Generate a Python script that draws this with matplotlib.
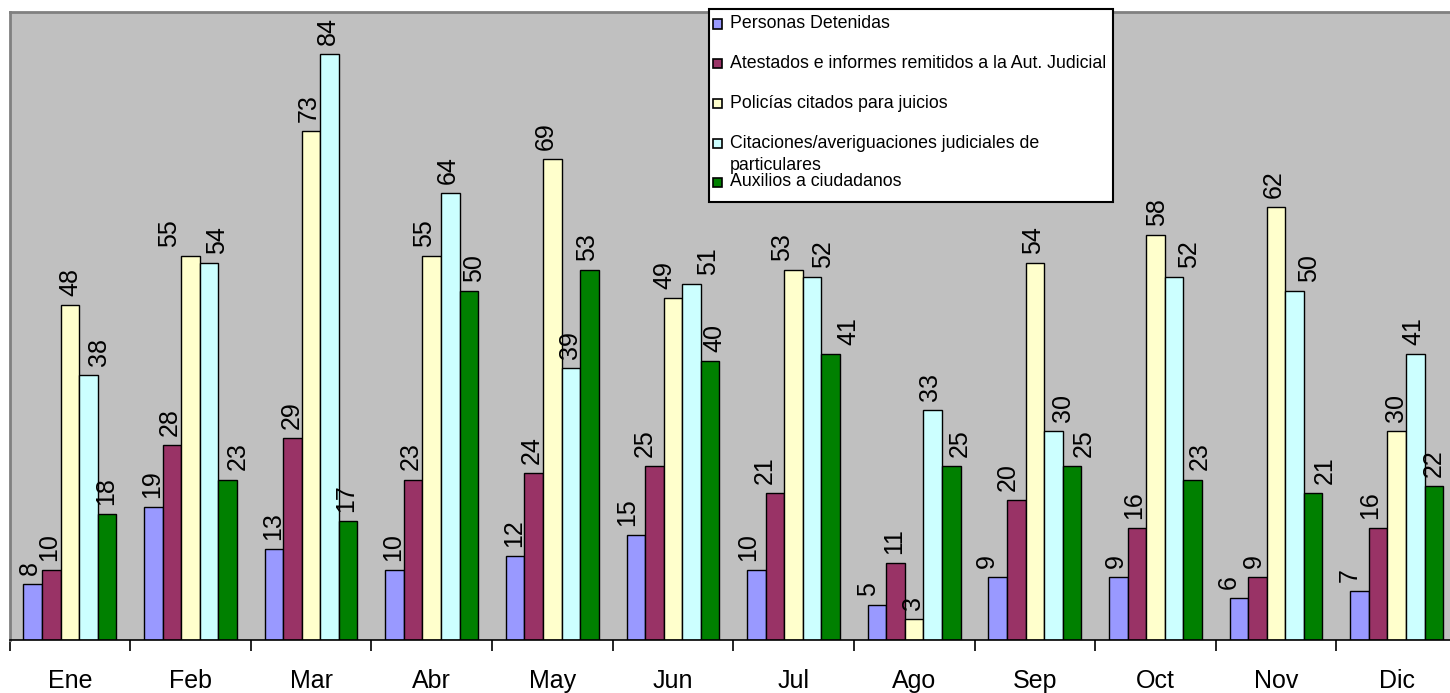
import matplotlib
matplotlib.use("Agg")
import matplotlib.pyplot as plt
from matplotlib.patches import Rectangle
import numpy as np

plt.rcParams['font.family'] = ['Liberation Sans', 'DejaVu Sans']

months = ["Ene", "Feb", "Mar", "Abr", "May", "Jun", "Jul", "Ago", "Sep", "Oct", "Nov", "Dic"]
series_names = [
    "Personas Detenidas",
    "Atestados e informes remitidos a la Aut. Judicial",
    "Policías citados para juicios",
    "Citaciones/averiguaciones judiciales de\nparticulares",
    "Auxilios a ciudadanos",
]
detenidas = [8, 19, 13, 10, 12, 15, 10, 5, 9, 9, 6, 7]
atestados = [10, 28, 29, 23, 24, 25, 21, 11, 20, 16, 9, 16]
policias = [48, 55, 73, 55, 69, 49, 53, 3, 54, 58, 62, 30]
citaciones = [38, 54, 84, 64, 39, 51, 52, 33, 30, 52, 50, 41]
auxilios = [18, 23, 17, 50, 53, 40, 41, 25, 25, 23, 21, 22]
series_values = [detenidas, atestados, policias, citaciones, auxilios]
colors = ["#9999FF", "#993366", "#FFFFCC", "#CCFFFF", "#008000"]

# horizontal nudges of the value labels (pixels), per month, per series (layout only)
label_nudge_px = [
    [-2.7, -2, 0.7, 10.7, -1],
    [-1, -2.2, -21, 7.7, 10.5],
    [-0.7, -1.2, -2.2, -1.5, -2.3],
    [-1.3, -2, -7.8, -2.7, 5.3],
    [-1.1, -2.3, -6.3, -1.3, -1.9],
    [-8.3, -9.3, -8.3, 16.6, 4],
    [-8, -10.5, -11.3, 11.1, 17.8],
    [-9.4, -1.3, -0.8, -2.5, 8.7],
    [-11, -8.6, -2, 9.8, 12.2],
    [-2.5, -2.3, 1.5, 15, 6.8],
    [-10.3, -3.6, -1.9, 14, 11.7],
    [-9.5, -8.3, -1, -1.7, 0.4],
]

W, H = 1450, 693
fig = plt.figure(figsize=(W / 100, H / 100), dpi=100)
fig.patch.set_facecolor("white")

def fx(px):
    return px / W

def fy(py):
    return 1 - py / H

left, right, top, bottom = 9.5, 1457, 12, 640
ax = fig.add_axes([fx(left), fy(bottom), fx(right - left), (bottom - top) / H])
ax.set_facecolor("#C0C0C0")

n = len(series_values)
bw = 1 / 6.5
x = np.arange(len(months))
for i, (vals, c) in enumerate(zip(series_values, colors)):
    pos = x + (i - (n - 1) / 2) * bw
    bars = ax.bar(pos, vals, width=bw, color=c, edgecolor="black", linewidth=1.0, zorder=2)
    for k, (b, v) in enumerate(zip(bars, vals)):
        dx = label_nudge_px[k][i] * 0.72
        ax.annotate(str(v), (b.get_x() + b.get_width() / 2, v), xytext=(dx, 6.5),
                    textcoords="offset points", rotation=90, ha="center", va="bottom",
                    fontsize=18, color="black", zorder=5)

ax.set_xlim(-0.5, len(months) - 0.5)
ax.set_ylim(0, 90)
ax.set_yticks([])
ax.set_xticks(x)
ax.set_xticklabels(months, fontsize=18)
ax.set_xticks(np.arange(len(months) + 1) - 0.5, minor=True)
ax.tick_params(axis="x", which="major", length=0, pad=21)
ax.tick_params(axis="x", which="minor", length=8, width=1.2, color="black")
for s in ["top", "left"]:
    ax.spines[s].set_color("#808080")
    ax.spines[s].set_linewidth(2)
ax.spines["right"].set_visible(False)
ax.spines["bottom"].set_color("black")
ax.spines["bottom"].set_linewidth(1.2)

# Legend (manual, Excel-style)
lx0, ly0, lx1, ly1 = 709, 9, 1113, 202
fig.patches.append(Rectangle((fx(lx0), fy(ly1)), fx(lx1 - lx0), (ly1 - ly0) / H,
                             transform=fig.transFigure, facecolor="white",
                             edgecolor="black", linewidth=1.5, zorder=10))
centers = [24, 63, 103, 143, 182]
for name, c, cy in zip(series_names, colors, centers):
    fig.patches.append(Rectangle((fx(713), fy(cy + 4.5)), fx(9), 9 / H,
                                 transform=fig.transFigure, facecolor=c,
                                 edgecolor="black", linewidth=1.2, zorder=11))
    for j, line in enumerate(name.split("\n")):
        fig.text(fx(730), fy(cy + j * 23), line, fontsize=12.8, ha="left",
                 va="center", zorder=12)

fig.savefig("out.png", dpi=100)
